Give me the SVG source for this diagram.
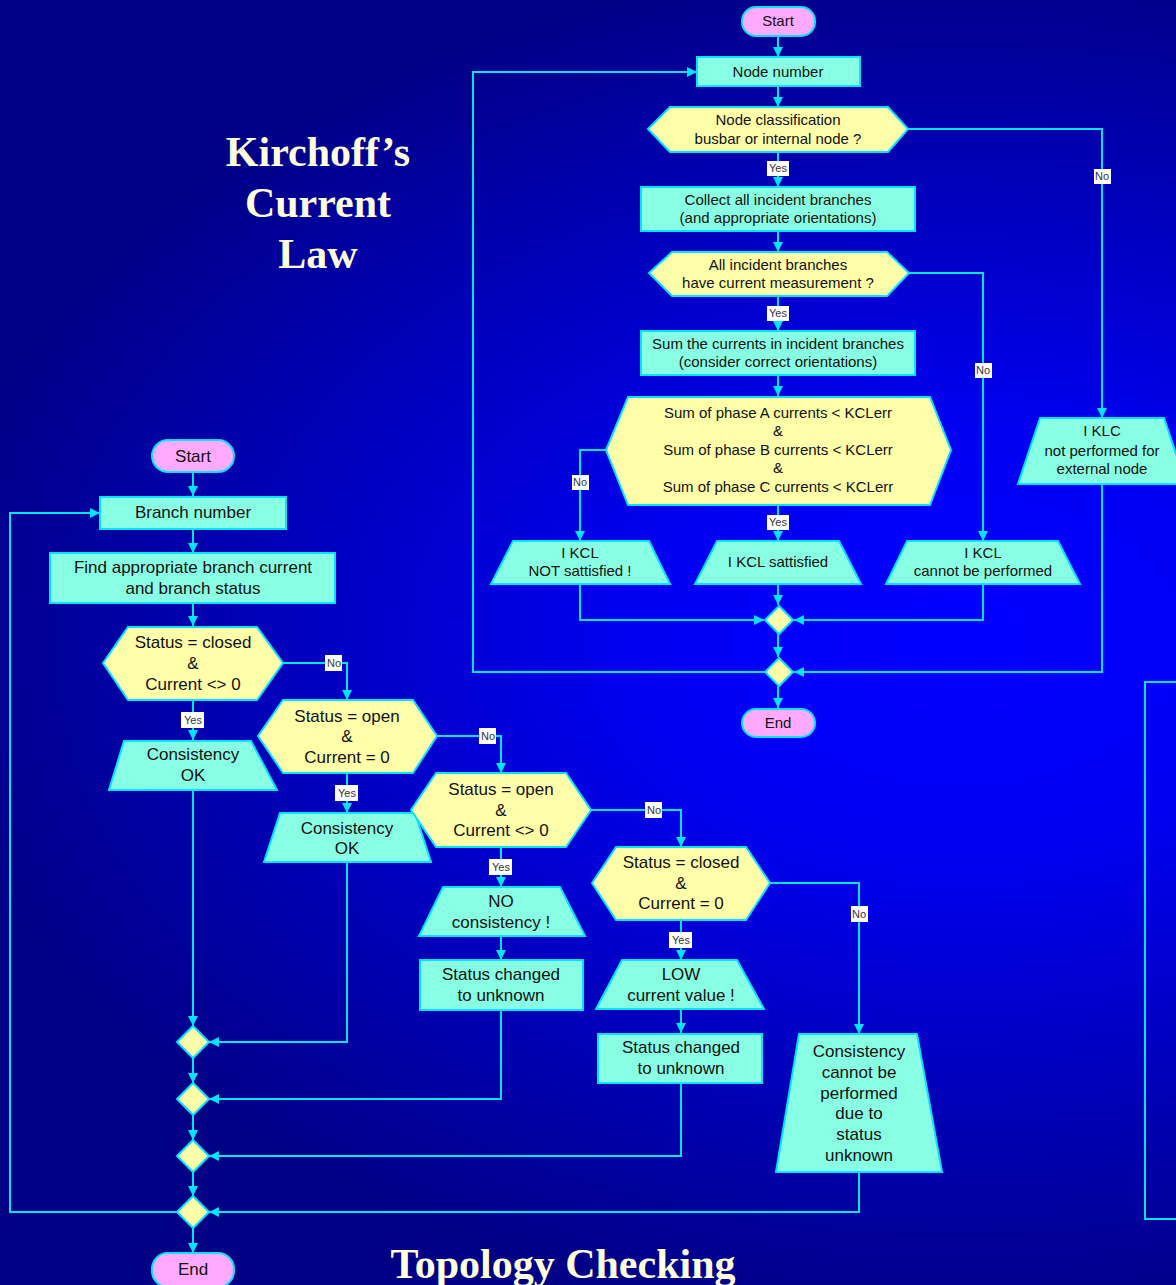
<svg xmlns="http://www.w3.org/2000/svg" width="1176" height="1285" viewBox="0 0 1176 1285">
<defs>
<radialGradient id="bg" gradientUnits="userSpaceOnUse" cx="0" cy="0" r="1" gradientTransform="translate(960 640) scale(1050 690)">
<stop offset="0" stop-color="#0000ff"/>
<stop offset="0.3" stop-color="#0000f2"/>
<stop offset="1" stop-color="#000084"/>
</radialGradient>
<marker id="arr" viewBox="0 0 10 10" refX="10" refY="5" markerWidth="10" markerHeight="10" markerUnits="userSpaceOnUse" orient="auto">
<path d="M0,0 L10,5 L0,10 z" fill="#00e5ff"/>
</marker>
<style>
.pill{fill:#ffaaff;stroke:#00e5ff;stroke-width:2}
.box{fill:#88ffe2;stroke:#00e5ff;stroke-width:2}
.dec{fill:#ffffaa;stroke:#00e5ff;stroke-width:2}
.c{fill:none;stroke:#00e5ff;stroke-width:2}
.a{marker-end:url(#arr)}
.t{font-family:"Liberation Sans",Arial,sans-serif;fill:#111;text-anchor:middle}
.s15{font-size:15px}
.s17{font-size:17px}
.lb rect{fill:#ffffff}
.lb text{font-family:"Liberation Sans",Arial,sans-serif;font-size:11px;fill:#333;text-anchor:middle}
.title{font-family:"Liberation Serif","Times New Roman",serif;font-weight:bold;font-size:42px;fill:#ffffdd;text-anchor:middle}
</style>
</defs>
<rect x="0" y="0" width="1176" height="1285" fill="url(#bg)"/>

<text class="title" x="318" y="166">Kirchoff’s</text>
<text class="title" x="318" y="217">Current</text>
<text class="title" x="318" y="268">Law</text>
<text class="title" x="563" y="1278">Topology Checking</text>

<g id="connectors">
<path class="c a" d="M778,36 V57"/>
<path class="c a" d="M778,86 V107"/>
<path class="c a" d="M778,152 V187"/>
<path class="c a" d="M778,231 V252"/>
<path class="c a" d="M778,296 V331"/>
<path class="c a" d="M778,375 V396"/>
<path class="c a" d="M606,450 H580 V541"/>
<path class="c a" d="M778,505 V541"/>
<path class="c a" d="M909,273 H983 V541"/>
<path class="c a" d="M580,584 V620 H764"/>
<path class="c a" d="M778,584 V605"/>
<path class="c a" d="M983,584 V620 H794"/>
<path class="c a" d="M778,634 V657"/>
<path class="c a" d="M764,672 H473 V72 H697"/>
<path class="c a" d="M908,129 H1102 V418"/>
<path class="c a" d="M1102,484 V672 H794"/>
<path class="c a" d="M778,686 V708"/>
<path class="c" d="M1178,682 H1145 V1219 H1178"/>

<path class="c a" d="M193,472 V496"/>
<path class="c a" d="M193,529 V553"/>
<path class="c a" d="M193,603 V626"/>
<path class="c a" d="M283,663 H347 V700"/>
<path class="c a" d="M193,700 V740"/>
<path class="c a" d="M437,736 H501 V773"/>
<path class="c a" d="M347,773 V813"/>
<path class="c a" d="M591,810 H681 V847"/>
<path class="c a" d="M501,847 V887"/>
<path class="c a" d="M501,936 V960"/>
<path class="c a" d="M681,920 V960"/>
<path class="c a" d="M681,1009 V1033"/>
<path class="c a" d="M770,883 H859 V1034"/>
<path class="c a" d="M193,790 V1026"/>
<path class="c a" d="M347,862 V1042 H209"/>
<path class="c a" d="M501,1010 V1099 H209"/>
<path class="c a" d="M681,1083 V1156 H209"/>
<path class="c a" d="M859,1172 V1212 H209"/>
<path class="c a" d="M193,1058 V1083"/>
<path class="c a" d="M193,1115 V1140"/>
<path class="c a" d="M193,1172 V1196"/>
<path class="c a" d="M193,1228 V1253"/>
<path class="c a" d="M177,1212 H10 V513 H100"/>

<g class="lb"><rect x="767" y="161" width="22" height="15"/><text x="778" y="172">Yes</text></g>
<g class="lb"><rect x="767" y="306" width="22" height="15"/><text x="778" y="317">Yes</text></g>
<g class="lb"><rect x="767" y="515" width="22" height="15"/><text x="778" y="526">Yes</text></g>
<g class="lb"><rect x="572" y="475" width="17" height="15"/><text x="580" y="486">No</text></g>
<g class="lb"><rect x="975" y="363" width="17" height="15"/><text x="983" y="374">No</text></g>
<g class="lb"><rect x="1094" y="169" width="17" height="15"/><text x="1102" y="180">No</text></g>

<g class="lb"><rect x="181" y="712" width="23" height="16"/><text x="193" y="724">Yes</text></g>
<g class="lb"><rect x="335" y="785" width="23" height="16"/><text x="347" y="797">Yes</text></g>
<g class="lb"><rect x="489" y="859" width="23" height="16"/><text x="501" y="871">Yes</text></g>
<g class="lb"><rect x="669" y="932" width="23" height="16"/><text x="681" y="944">Yes</text></g>
<g class="lb"><rect x="325" y="655" width="17" height="16"/><text x="334" y="667">No</text></g>
<g class="lb"><rect x="479" y="728" width="17" height="16"/><text x="488" y="740">No</text></g>
<g class="lb"><rect x="645" y="802" width="17" height="16"/><text x="654" y="814">No</text></g>
<g class="lb"><rect x="851" y="906" width="17" height="16"/><text x="859" y="918">No</text></g>
</g>

<g id="kcl-start"><rect class="pill" x="742" y="7" width="73" height="29" rx="14"/><text class="t s15" x="778" y="26">Start</text></g>
<g id="kcl-node-number"><rect class="box" x="697" y="57" width="163" height="29"/><text class="t s15" x="778" y="77">Node number</text></g>
<g id="kcl-classification"><polygon class="dec" points="648,129 670,107 888,107 908,129 888,152 670,152"/><text class="t s15" x="778" y="125">Node classification</text><text class="t s15" x="778" y="144">busbar or internal node ?</text></g>
<g id="kcl-collect"><rect class="box" x="641" y="187" width="274" height="44"/><text class="t s15" x="778" y="205">Collect all incident branches</text><text class="t s15" x="778" y="223">(and appropriate orientations)</text></g>
<g id="kcl-measured"><polygon class="dec" points="649,273 672,252 887,252 909,273 887,296 672,296"/><text class="t s15" x="778" y="270">All incident branches</text><text class="t s15" x="778" y="288">have current measurement ?</text></g>
<g id="kcl-sum"><rect class="box" x="641" y="331" width="274" height="44"/><text class="t s15" x="778" y="349">Sum the currents in incident branches</text><text class="t s15" x="778" y="367">(consider correct orientations)</text></g>
<g id="kcl-check"><polygon class="dec" points="606,450 628,397 930,397 951,450 930,505 628,505"/><text class="t s15" x="778" y="418">Sum of phase A currents &lt; KCLerr</text><text class="t s15" x="778" y="436">&amp;</text><text class="t s15" x="778" y="455">Sum of phase B currents &lt; KCLerr</text><text class="t s15" x="778" y="473">&amp;</text><text class="t s15" x="778" y="492">Sum of phase C currents &lt; KCLerr</text></g>
<g id="kcl-not-satisfied"><polygon class="box" points="513,541 649,541 670,584 491,584"/><text class="t s15" x="580" y="558">I KCL</text><text class="t s15" x="580" y="576">NOT sattisfied !</text></g>
<g id="kcl-satisfied"><polygon class="box" points="717,541 839,541 861,584 695,584"/><text class="t s15" x="778" y="567">I KCL sattisfied</text></g>
<g id="kcl-cannot"><polygon class="box" points="907,541 1058,541 1080,584 886,584"/><text class="t s15" x="983" y="558">I KCL</text><text class="t s15" x="983" y="576">cannot be performed</text></g>
<g id="kcl-external"><polygon class="box" points="1040,418 1164,418 1186,484 1018,484"/><text class="t s15" x="1102" y="436">I KLC</text><text class="t s15" x="1102" y="456">not performed for</text><text class="t s15" x="1102" y="474">external node</text></g>
<g id="kcl-merge1"><polygon class="dec" points="779,606 793,620 779,634 765,620"/></g>
<g id="kcl-merge2"><polygon class="dec" points="779,658 793,672 779,686 765,672"/></g>
<g id="kcl-end"><rect class="pill" x="742" y="709" width="73" height="28" rx="14"/><text class="t s15" x="778" y="728">End</text></g>

<g id="top-start"><rect class="pill" x="152" y="440" width="82" height="32" rx="16"/><text class="t s17" x="193" y="462">Start</text></g>
<g id="top-branch-number"><rect class="box" x="100" y="497" width="186" height="32"/><text class="t s17" x="193" y="518">Branch number</text></g>
<g id="top-find"><rect class="box" x="50" y="553" width="285" height="50"/><text class="t s17" x="193" y="573">Find appropriate branch current</text><text class="t s17" x="193" y="594">and branch status</text></g>
<g id="top-closed-nonzero"><polygon class="dec" points="103,663 128,627 257,627 283,663 257,700 128,700"/><text class="t s17" x="193" y="648">Status = closed</text><text class="t s17" x="193" y="669">&amp;</text><text class="t s17" x="193" y="690">Current &lt;&gt; 0</text></g>
<g id="top-ok1"><polygon class="box" points="124,741 251,741 277,790 109,790"/><text class="t s17" x="193" y="760">Consistency</text><text class="t s17" x="193" y="781">OK</text></g>
<g id="top-open-zero"><polygon class="dec" points="258,736 283,700 413,700 437,736 413,773 283,773"/><text class="t s17" x="347" y="722">Status = open</text><text class="t s17" x="347" y="742">&amp;</text><text class="t s17" x="347" y="763">Current = 0</text></g>
<g id="top-ok2"><polygon class="box" points="280,813 415,813 431,862 264,862"/><text class="t s17" x="347" y="834">Consistency</text><text class="t s17" x="347" y="854">OK</text></g>
<g id="top-open-nonzero"><polygon class="dec" points="411,810 436,773 566,773 591,810 566,847 436,847"/><text class="t s17" x="501" y="795">Status = open</text><text class="t s17" x="501" y="816">&amp;</text><text class="t s17" x="501" y="836">Current &lt;&gt; 0</text></g>
<g id="top-no-consistency"><polygon class="box" points="443,887 560,887 585,936 419,936"/><text class="t s17" x="501" y="907">NO</text><text class="t s17" x="501" y="928">consistency !</text></g>
<g id="top-changed1"><rect class="box" x="420" y="960" width="163" height="50"/><text class="t s17" x="501" y="980">Status changed</text><text class="t s17" x="501" y="1001">to unknown</text></g>
<g id="top-closed-zero"><polygon class="dec" points="592,883 616,847 746,847 770,883 746,920 616,920"/><text class="t s17" x="681" y="868">Status = closed</text><text class="t s17" x="681" y="889">&amp;</text><text class="t s17" x="681" y="909">Current = 0</text></g>
<g id="top-low"><polygon class="box" points="622,960 737,960 764,1009 596,1009"/><text class="t s17" x="681" y="980">LOW</text><text class="t s17" x="681" y="1001">current value !</text></g>
<g id="top-changed2"><rect class="box" x="598" y="1034" width="164" height="49"/><text class="t s17" x="681" y="1053">Status changed</text><text class="t s17" x="681" y="1074">to unknown</text></g>
<g id="top-cannot"><polygon class="box" points="799,1034 917,1034 942,1172 776,1172"/><text class="t s17" x="859" y="1057">Consistency</text><text class="t s17" x="859" y="1078">cannot be</text><text class="t s17" x="859" y="1099">performed</text><text class="t s17" x="859" y="1119">due to</text><text class="t s17" x="859" y="1140">status</text><text class="t s17" x="859" y="1161">unknown</text></g>
<g id="top-merge1"><polygon class="dec" points="193,1026 209,1042 193,1058 177,1042"/></g>
<g id="top-merge2"><polygon class="dec" points="193,1083 209,1099 193,1115 177,1099"/></g>
<g id="top-merge3"><polygon class="dec" points="193,1140 209,1156 193,1172 177,1156"/></g>
<g id="top-merge4"><polygon class="dec" points="193,1196 209,1212 193,1228 177,1212"/></g>
<g id="top-end"><rect class="pill" x="152" y="1253" width="82" height="34" rx="16"/><text class="t s17" x="193" y="1275">End</text></g>
</svg>
